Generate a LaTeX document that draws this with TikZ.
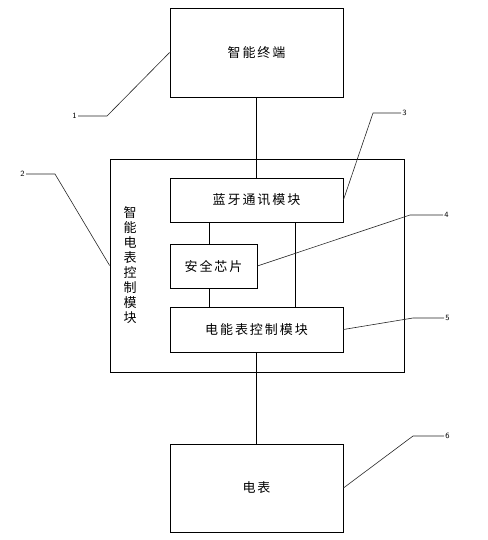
\documentclass[tikz,border=0pt]{standalone}
\usepackage{fontspec}
\newfontfamily\cjk[LetterSpace=15]{Noto Sans CJK SC}
\tikzset{blk/.style={draw,minimum width=173pt,minimum height=44pt,inner sep=0pt},
  num/.style={font=\sffamily\fontsize{8}{9}\selectfont,inner sep=1pt},
  lead/.style={line width=.6pt,black!85}}
\begin{document}
\begin{tikzpicture}[x=1pt,y=-1pt,line width=.8pt,every node/.style={font=\cjk\fontsize{13}{15}\selectfont}]
\useasboundingbox (0,0) rectangle (487,540);
% blocks
\node[blk,minimum height=89pt] (term) at (256.5,52.5){智能终端};
\node[draw,minimum width=294pt,minimum height=213pt] (ctrl) at (257,265.5){};
\node[blk] (bt) at (256.5,200){蓝牙通讯模块};
\node[blk,minimum width=87pt] (chip) at (213.5,266){安全芯片};
\node[blk,minimum height=45pt] (mcu) at (256.5,329.5){电能表控制模块};
\node[blk,minimum height=88pt] (meter) at (256.5,488){电表};
\node[align=center,font=\cjk\fontsize{13}{15}\selectfont] (ctrltxt) at (130,265){智\\能\\电\\表\\控\\制\\模\\块};
% links
\coordinate (lk) at (209,0); \coordinate (rk) at (295,0);
\draw (term.south)--(bt.north); \draw (mcu.south)--(meter.north);
\draw (bt.south -| lk)--(chip.north -| lk); \draw (chip.south -| lk)--(mcu.north -| lk);
\draw (bt.south -| rk)--(mcu.north -| rk);
% leaders
\node[num,anchor=east] (n1) at (78,116){1}; \draw[lead] (n1.east)--++(29,0)--(term.west);
\node[num,anchor=east] (n2) at (26,174){2}; \draw[lead] (n2.east)--++(29,0)--(ctrl.west);
\node[num,anchor=west] (n3) at (401,113){3}; \draw[lead] (n3.west)--++(-28,0)--(bt.east);
\node[num,anchor=west] (n4) at (443,215){4}; \draw[lead] (n4.west)--++(-33,0)--(chip.east);
\node[num,anchor=west] (n5) at (444,318){5}; \draw[lead] (n5.west)--++(-31,0)--(mcu.east);
\node[num,anchor=west] (n6) at (444,436){6}; \draw[lead] (n6.west)--++(-31,0)--(meter.east);
\end{tikzpicture}
\end{document}
